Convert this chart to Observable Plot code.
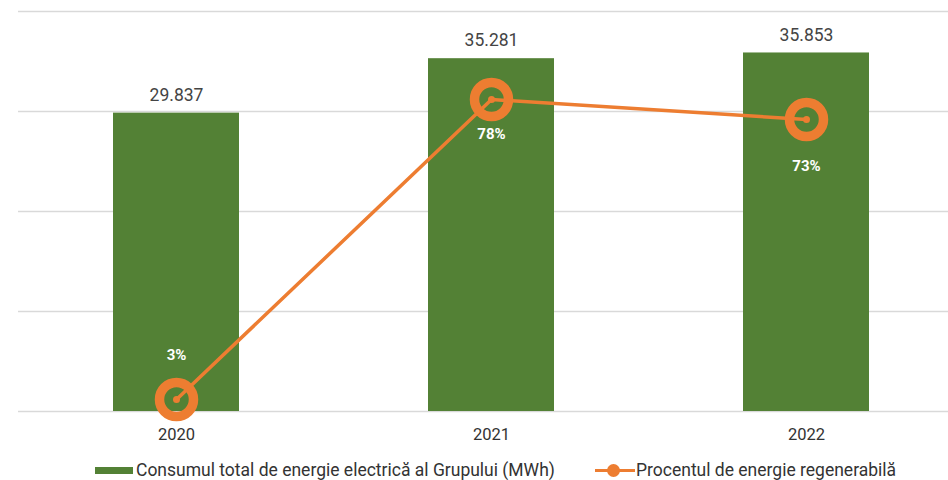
<!DOCTYPE html>
<html>
<head>
<meta charset="utf-8">
<script src="https://cdn.jsdelivr.net/npm/d3@7"></script>
<script src="https://cdn.jsdelivr.net/npm/@observablehq/plot@0.6"></script>
<style>
  body { margin: 0; background: #fff; font-family: Roboto, sans-serif; }
  #wrap { width: 948px; position: relative; }
  #legend { position: relative; height: 30px; font-size: 17.5px; color: #333; }
  .item { position: absolute; top: 9px; display: flex; align-items: center; height: 22px; }
  .sw { width: 38px; height: 7px; background: #538135; margin-right: 3px; }
  .ln { width: 40px; height: 3px; background: #ED7D31; position: relative; margin-right: 1px; }
  .ln::after { content: ""; position: absolute; left: 12px; top: -5px; width: 13px; height: 13px; border-radius: 50%; background: #ED7D31; }
</style>
</head>
<body>
<div id="wrap">
  <div id="chart"></div>
  <div id="legend">
    <div class="item" style="left:95px"><div class="sw"></div>Consumul total de energie electrică al Grupului (MWh)</div>
    <div class="item" style="left:595px"><div class="ln"></div>Procentul de energie regenerabilă</div>
  </div>
</div>
<script>
const years = ["2020", "2021", "2022"];
const consum = [29837, 35281, 35853];
const consumLabels = ["29.837", "35.281", "35.853"];
const procent = [3, 78, 73];
const procentLabels = ["3%", "78%", "73%"];
const yTicks = [0, 10000, 20000, 30000, 40000];

const data = years.map((year, i) => ({
  year, consum: consum[i], label: consumLabels[i], pct: procent[i], pctLabel: procentLabels[i]
}));
// percentage drawn on a secondary axis: 100% ≈ 40000 MWh
const pctY = d => d.pct * 400;

const green = "#538135";
const orange = "#ED7D31";

const chart = Plot.plot({
  width: 948,
  height: 450,
  marginLeft: 18,
  marginRight: 0,
  marginTop: 11,
  marginBottom: 39,
  style: { fontFamily: "Roboto, sans-serif", background: "#fff" },
  x: { domain: years, range: [18, 964], paddingInner: 0.6, paddingOuter: 0.297, label: null },
  y: { domain: [0, 40000], axis: null },
  marks: [
    Plot.ruleY(yTicks, { stroke: "#d9d9d9", strokeWidth: 1.5 }),
    Plot.barY(data, { x: "year", y: "consum", fill: green }),
    Plot.text(data, { x: "year", y: "consum", text: "label", dy: -18, fontSize: 17.5, fill: "#444" }),
    Plot.line(data, { x: "year", y: pctY, stroke: orange, strokeWidth: 3.5 }),
    Plot.dot(data, { x: "year", y: pctY, r: 17, stroke: orange, strokeWidth: 9.5, fill: "none" }),
    Plot.dot(data, { x: "year", y: pctY, r: 3.5, fill: orange }),
    Plot.text(data, { filter: d => d.year === "2020", x: "year", y: pctY, text: "pctLabel", dy: -44, fontSize: 15, fontWeight: "bold", fill: "#fff" }),
    Plot.text(data, { filter: d => d.year === "2021", x: "year", y: pctY, text: "pctLabel", dy: 35, fontSize: 15, fontWeight: "bold", fill: "#fff" }),
    Plot.text(data, { filter: d => d.year === "2022", x: "year", y: pctY, text: "pctLabel", dy: 47, fontSize: 15, fontWeight: "bold", fill: "#fff" }),
    Plot.axisX({ tickSize: 0, tickPadding: 17, fontSize: 16.5, fill: "#333", label: null })
  ]
});
document.getElementById("chart").appendChild(chart);
</script>
</body>
</html>
